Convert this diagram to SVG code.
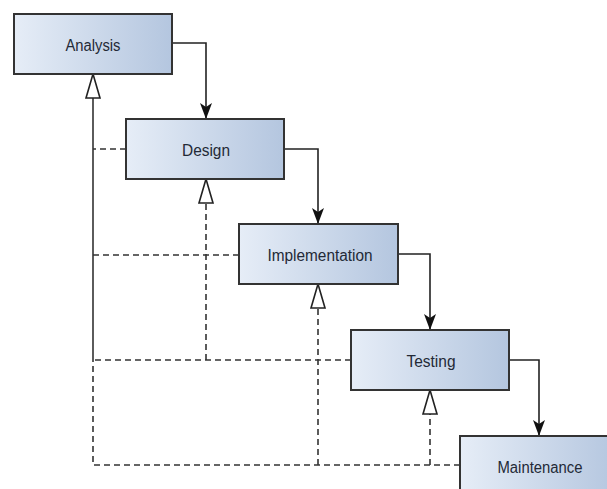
<svg xmlns="http://www.w3.org/2000/svg" width="607" height="489" viewBox="0 0 607 489">
  <defs>
    <linearGradient id="boxGrad" x1="0" y1="0" x2="1" y2="0">
      <stop offset="0" stop-color="#e6edf7"/>
      <stop offset="1" stop-color="#b4c6df"/>
    </linearGradient>
    <marker id="arrow" markerUnits="userSpaceOnUse" markerWidth="16" markerHeight="12" viewBox="0 0 16 12" refX="16" refY="6" orient="auto">
      <path d="M0,0 L16,6 L0,12 L4,6 Z" fill="#111"/>
    </marker>
    <marker id="hollow" markerUnits="userSpaceOnUse" markerWidth="26" markerHeight="16" viewBox="0 0 26 16" refX="25" refY="8" orient="auto">
      <path d="M1,1 L25,8 L1,15 Z" fill="#fff" stroke="#222" stroke-width="1.6"/>
    </marker>
  </defs>
  <style>
    .box { fill: url(#boxGrad); stroke: #333; stroke-width: 2; }
    .label { font-family: "Liberation Sans", Arial, sans-serif; font-size: 16px; fill: #232936; text-anchor: middle; }
    .flow { fill: none; stroke: #222; stroke-width: 1.6; }
    .dep { fill: none; stroke: #333; stroke-width: 1.6; stroke-dasharray: 6 4; }
    .trunk { fill: none; stroke: #333; stroke-width: 1.6; }
  </style>
  <rect width="607" height="489" fill="#fff"/>

  <g id="connectors">
    <path class="flow" d="M172,43 H206 V119" marker-end="url(#arrow)"/>
    <path class="flow" d="M284,149 H318 V224" marker-end="url(#arrow)"/>
    <path class="flow" d="M398,254 H430 V330" marker-end="url(#arrow)"/>
    <path class="flow" d="M509,360 H539 V436" marker-end="url(#arrow)"/>

    <path class="dep" d="M126,149 H93"/>
    <path class="dep" d="M239,255 H93"/>
    <path class="dep" d="M351,360 H93"/>
    <path class="dep" d="M460,465 H93 V360"/>
    <path class="trunk" d="M93,360 V74" marker-end="url(#hollow)"/>
    <path class="dep" d="M206,360 V179" marker-end="url(#hollow)"/>
    <path class="dep" d="M318,465 V284" marker-end="url(#hollow)"/>
    <path class="dep" d="M430,465 V390" marker-end="url(#hollow)"/>
  </g>

  <g id="analysis">
    <rect class="box" x="14" y="14" width="158" height="60"/>
    <text class="label" x="93" y="51" textLength="55" lengthAdjust="spacingAndGlyphs">Analysis</text>
  </g>
  <g id="design">
    <rect class="box" x="126" y="119" width="158" height="60"/>
    <text class="label" x="206" y="156" textLength="48" lengthAdjust="spacingAndGlyphs">Design</text>
  </g>
  <g id="implementation">
    <rect class="box" x="239" y="224" width="159" height="60"/>
    <text class="label" x="320" y="261" textLength="105" lengthAdjust="spacingAndGlyphs">Implementation</text>
  </g>
  <g id="testing">
    <rect class="box" x="351" y="330" width="158" height="60"/>
    <text class="label" x="431" y="367" textLength="49" lengthAdjust="spacingAndGlyphs">Testing</text>
  </g>
  <g id="maintenance">
    <rect class="box" x="460" y="436" width="158" height="60"/>
    <text class="label" x="540" y="473" textLength="85" lengthAdjust="spacingAndGlyphs">Maintenance</text>
  </g>
</svg>
